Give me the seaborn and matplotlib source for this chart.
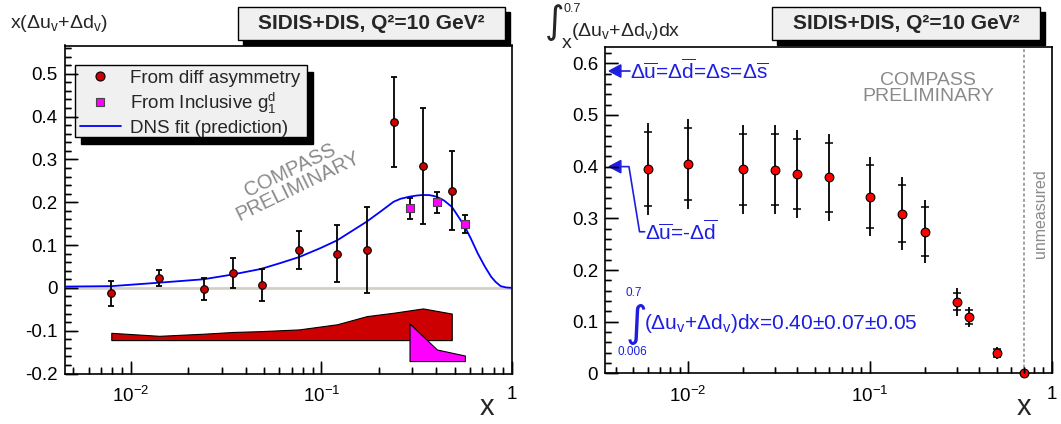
import numpy as np
import matplotlib
matplotlib.use("Agg")
import matplotlib.pyplot as plt
import seaborn as sns
from matplotlib.patches import Rectangle
from matplotlib.lines import Line2D
from matplotlib.ticker import MultipleLocator, FuncFormatter, LogLocator, NullFormatter

# === left panel: x(du_v + dd_v) ===
x_diff = [0.0079, 0.0141, 0.0243, 0.0345, 0.0485, 0.0764, 0.121, 0.173, 0.240, 0.341, 0.483]
y_diff = [-0.013, 0.023, -0.003, 0.034, 0.006, 0.088, 0.080, 0.088, 0.387, 0.284, 0.227]
err_diff = [0.029, 0.018, 0.025, 0.035, 0.037, 0.044, 0.067, 0.101, 0.105, 0.135, 0.093]
syst_diff = [0.017, 0.010, 0.015, 0.019, 0.021, 0.025, 0.037, 0.056, 0.064, 0.074, 0.062]

x_incl = [0.290, 0.404, 0.566]
y_incl = [0.186, 0.200, 0.149]
err_incl = [0.025, 0.025, 0.021]
syst_incl = [0.088, 0.027, 0.013]

x_dns = [0.0045, 0.0079, 0.014, 0.024, 0.034, 0.048, 0.061, 0.0765, 0.099, 0.121, 0.172,
         0.204, 0.239, 0.26, 0.29, 0.315, 0.341, 0.37, 0.402, 0.44, 0.484, 0.52, 0.566,
         0.61, 0.662, 0.72, 0.777, 0.82, 0.872, 0.93, 1.0]
y_dns = [0.003, 0.004, 0.012, 0.020, 0.031, 0.044, 0.058, 0.072, 0.093, 0.111, 0.154,
         0.178, 0.201, 0.208, 0.213, 0.2155, 0.217, 0.2165, 0.213, 0.204, 0.189, 0.168, 0.143,
         0.114, 0.080, 0.050, 0.026, 0.014, 0.004, 0.001, 0.0]

# === right panel: integral from x to 0.7 ===
x_int = [0.006, 0.01, 0.02, 0.03, 0.04, 0.06, 0.1, 0.15, 0.2, 0.3, 0.35, 0.5, 0.7]
y_int = [0.395, 0.405, 0.395, 0.394, 0.386, 0.379, 0.342, 0.309, 0.274, 0.139, 0.109, 0.039, 0.0]
tot_int = [0.089, 0.087, 0.086, 0.086, 0.085, 0.084, 0.077, 0.070, 0.061, 0.027, 0.020, 0.012, 0.0]
stat_int = [0.072, 0.070, 0.069, 0.069, 0.068, 0.066, 0.061, 0.055, 0.047, 0.017, 0.014, 0.008, 0.0]

sea_value = 0.585      # du=dd=ds=ds~
asym_value = 0.40      # du=-dd
x_unmeasured = 0.7

RED_L = "#cc0000"
RED_R = "#ff0000"
MAG = "#ff00ff"
BLUE = "#0000ff"
TBLUE = "#1e1ee0"
GRAY = "#8a8a8a"

sns.set_style("ticks", {"xtick.direction": "in", "ytick.direction": "in"})
plt.rcParams["font.family"] = ["Liberation Sans", "DejaVu Sans"]
plt.rcParams["mathtext.fontset"] = "custom"
plt.rcParams["mathtext.rm"] = "Liberation Sans"
plt.rcParams["mathtext.it"] = "Liberation Sans:italic"
plt.rcParams["mathtext.bf"] = "Liberation Sans:bold"
plt.rcParams["axes.unicode_minus"] = False
plt.rcParams["axes.axisbelow"] = False
plt.rcParams.update({
    "xtick.bottom": True, "ytick.left": True, "xtick.top": False, "ytick.right": False,
    "xtick.major.size": 9, "ytick.major.size": 9, "xtick.minor.size": 4.5,
    "ytick.minor.size": 4.5, "xtick.major.width": 1, "ytick.major.width": 1,
    "xtick.minor.width": 1, "ytick.minor.width": 1, "xtick.color": "k",
    "ytick.color": "k", "xtick.labelsize": 13.5, "ytick.labelsize": 13.5,
    "xtick.major.pad": 9, "ytick.major.pad": 5,
})

fig = plt.figure(figsize=(10.61, 4.24), dpi=100)
W, H = 1061.0, 424.0


def px_axes(x0, y0, x1, y1):
    return [x0 / W, 1 - y1 / H, (x1 - x0) / W, (y1 - y0) / H]


ax1 = fig.add_axes(px_axes(64.7, 45.5, 512, 373.5))
ax2 = fig.add_axes(px_axes(605, 46.7, 1051.7, 373.4))
ax_px = {ax1: (447.3, 328.0), ax2: (446.7, 326.7)}


def yfmt(v, p):
    return f"{round(v, 3) + 0.0:g}"


def xfmt(v, p):
    if abs(v - 1) < 1e-9:
        return "1"
    return rf"$10^{{{int(round(np.log10(v)))}}}$"


# scales and locators first
for ax in (ax1, ax2):
    ax.set_xscale("log")
    ax.xaxis.set_major_locator(LogLocator(base=10))
    ax.xaxis.set_minor_locator(LogLocator(base=10, subs=np.arange(2, 10)))
    ax.xaxis.set_minor_formatter(NullFormatter())
    ax.xaxis.set_major_formatter(FuncFormatter(xfmt))
    ax.yaxis.set_major_locator(MultipleLocator(0.1))
    ax.yaxis.set_minor_locator(MultipleLocator(0.02))
    ax.yaxis.set_major_formatter(FuncFormatter(yfmt))

# ---------------- left panel ----------------
ax1.axhline(0, color="#d4d0c8", lw=2, zorder=1)

ax1.fill_between(x_diff, -0.122, -0.122 + np.array(syst_diff), facecolor=RED_L,
                 edgecolor="k", lw=0.8, zorder=2)
ax1.fill_between(x_incl, -0.171, -0.171 + np.array(syst_incl), facecolor=MAG,
                 edgecolor="k", lw=0.8, zorder=2)

sns.lineplot(x=x_dns, y=y_dns, ax=ax1, color=BLUE, lw=1.3, sort=False, zorder=3)

ax1.errorbar(x_diff, y_diff, yerr=err_diff, fmt="none", ecolor="k", elinewidth=1.3,
             capsize=2.3, capthick=1.3, zorder=4)
ax1.errorbar(x_incl, y_incl, yerr=err_incl, fmt="none", ecolor="k", elinewidth=1.3,
             capsize=2.3, capthick=1.3, zorder=4)
sns.scatterplot(x=x_diff, y=y_diff, ax=ax1, marker="o", s=30, color=RED_L,
                edgecolor="k", linewidth=0.8, zorder=5)
sns.scatterplot(x=x_incl, y=y_incl, ax=ax1, marker="s", s=28, color=MAG,
                edgecolor="#444444", linewidth=0.8, zorder=5)

ax1.text(0.512, 0.595, "COMPASS\nPRELIMINARY", transform=ax1.transAxes, rotation=26,
         ha="center", va="center", fontsize=14.5, color=GRAY, linespacing=0.95,
         rotation_mode="anchor")

# legend with ROOT-like shadow box
lx0, lx1, ly0, ly1 = 0.023, 0.542, 0.721, 0.9405
ax1.add_patch(Rectangle((lx0 + 0.0134, ly0 - 0.0213), lx1 - lx0, ly1 - ly0,
                        transform=ax1.transAxes, fc="k", ec="k", zorder=6))
ax1.add_patch(Rectangle((lx0, ly0), lx1 - lx0, ly1 - ly0, transform=ax1.transAxes,
                        fc="#f0f0f0", ec="k", lw=1, zorder=7))
handles = [
    Line2D([], [], marker="o", ls="none", mfc=RED_L, mec="k", ms=6.5, mew=0.8),
    Line2D([], [], marker="s", ls="none", mfc=MAG, mec="#444444", ms=6, mew=0.8),
    Line2D([], [], color=BLUE, lw=1.3),
]
labels = ["From diff asymmetry", "From Inclusive g$_\\mathrm{1}^\\mathrm{d}$", "DNS fit (prediction)"]
leg = ax1.legend(handles, labels, loc="upper left", bbox_to_anchor=(lx0, ly1),
                 frameon=False, fontsize=13.5, handlelength=2.2, handletextpad=0.5,
                 labelspacing=0.2, borderpad=0.25, borderaxespad=0)
leg.set_zorder(8)

# ---------------- right panel ----------------
ax2.axvline(x_unmeasured, ymin=0, ymax=1.035, color=GRAY, lw=1.1, ls=(0, (2, 1.5)),
            clip_on=False, zorder=1)
ax2.text(0.974, 0.49, "unmeasured", transform=ax2.transAxes, rotation=90,
         ha="center", va="center", fontsize=11.5, color=GRAY)
ax2.text(0.723, 0.872, "COMPASS\nPRELIMINARY", transform=ax2.transAxes,
         ha="center", va="center", fontsize=14, color=GRAY, linespacing=0.85)

ax2.errorbar(x_int, y_int, yerr=tot_int, fmt="none", ecolor="k", elinewidth=1.3,
             capsize=0, zorder=3, clip_on=False)
ax2.errorbar(x_int, y_int, yerr=stat_int, fmt="none", ecolor="k", elinewidth=0,
             capsize=2.9, capthick=1.1, zorder=3, clip_on=False)
sns.scatterplot(x=x_int, y=y_int, ax=ax2, marker="o", s=40, color=RED_R,
                edgecolor="k", linewidth=0.8, zorder=5, clip_on=False)

# arrows pointing at the y axis
for yv in (sea_value, asym_value):
    ax2.fill([0.00369, 0.00428, 0.00428], [yv, yv + 0.012, yv - 0.012],
             color=TBLUE, zorder=6, clip_on=False)
ax2.plot([0.00428, 0.00478], [sea_value, sea_value], color=TBLUE, lw=1.2)
ax2.text(0.00482, sea_value,
         r"Δ$\overline{\mathrm{u}}$=Δ$\overline{\mathrm{d}}$=Δs=Δ$\overline{\mathrm{s}}$",
         ha="left", va="center", fontsize=15, color=TBLUE)
ax2.plot([0.00428, 0.00474, 0.00542, 0.00578], [asym_value, asym_value, 0.274, 0.274],
         color=TBLUE, lw=1.2)
ax2.text(0.00580, 0.274, r"Δ$\overline{\mathrm{u}}$=-Δ$\overline{\mathrm{d}}$",
         ha="left", va="center", fontsize=15, color=TBLUE)

# integral result
ax2.text(0.0694, 0.150, "∫", transform=ax2.transAxes, ha="center", va="center",
         fontsize=30, color=TBLUE, family="DejaVu Sans")
ax2.text(0.065, 0.245, "0.7", transform=ax2.transAxes, ha="center", va="center",
         fontsize=8.5, color=TBLUE)
ax2.text(0.062, 0.065, "0.006", transform=ax2.transAxes, ha="center", va="center",
         fontsize=8.5, color=TBLUE)
ax2.text(0.088, 0.152, r"(Δu$_\mathrm{v}$+Δd$_\mathrm{v}$)dx=0.40±0.07±0.05",
         transform=ax2.transAxes, ha="left", va="center", fontsize=15, color=TBLUE)

# ---------------- axes cosmetics ----------------
ax1.set_xlim(0.0045, 1)
ax1.set_ylim(-0.2, 0.566)
ax2.set_xlim(0.0035, 1)
ax2.set_ylim(0, 0.632)

for ax in (ax1, ax2):
    for s in ax.spines.values():
        s.set_visible(True)
        s.set_edgecolor("k")
        s.set_linewidth(1.2)
    ax.set_xlabel("")
    ax.set_ylabel("")
    ax.tick_params(which="both", direction="in", bottom=True, left=True, top=False,
                   right=False, color="k", width=1)
    ax.tick_params(which="major", length=9)
    ax.tick_params(which="minor", length=4.5)
    ax.xaxis.set_zorder(10)
    ax.yaxis.set_zorder(10)

    # ROOT-style inner tick marks, placed from the axis locators
    wpx, hpx = ax_px[ax]
    x0, x1 = ax.get_xlim()
    y0, y1 = ax.get_ylim()
    for locs, size in ((ax.xaxis.get_majorticklocs(), 12.5), (ax.xaxis.get_minorticklocs(), 6.3)):
        locs = [v for v in locs if x0 <= v <= x1]
        ax.vlines(locs, 0, size / hpx, transform=ax.get_xaxis_transform(), colors="k",
                  lw=1, zorder=9, clip_on=False)
    for locs, size in ((ax.yaxis.get_majorticklocs(), 12.5), (ax.yaxis.get_minorticklocs(), 6.3)):
        locs = [v for v in locs if y0 - 1e-9 <= v <= y1 + 1e-9]
        ax.hlines(locs, 0, size / wpx, transform=ax.get_yaxis_transform(), colors="k",
                  lw=1, zorder=9, clip_on=False)

# ---------------- figure texts ----------------
fig.text(10 / W, 1 - 23 / H, r"x(Δu$_\mathrm{v}$+Δd$_\mathrm{v}$)", ha="left",
         va="center", fontsize=14)
fig.text(555 / W, 1 - 23 / H, "∫", ha="center", va="center", fontsize=27,
         family="DejaVu Sans")
fig.text(563 / W, 1 - 9 / H, "0.7", ha="left", va="center", fontsize=9)
fig.text(562 / W, 1 - 44 / H, "x", ha="left", va="center", fontsize=14)
fig.text(571 / W, 1 - 31 / H, r"(Δu$_\mathrm{v}$+Δd$_\mathrm{v}$)dx", ha="left",
         va="center", fontsize=14)

fig.text(487 / W, 1 - 407 / H, "x", ha="center", va="center", fontsize=21)
fig.text(1024 / W, 1 - 407 / H, "x", ha="center", va="center", fontsize=21)

for bx0, bx1 in ((238, 505), (772, 1040)):
    by0, by1 = 7, 40
    fig.add_artist(Rectangle((bx0 / W + 5 / W, 1 - (by1 + 5) / H), (bx1 - bx0) / W,
                             (by1 - by0) / H, transform=fig.transFigure, fc="k", ec="k"))
    fig.add_artist(Rectangle((bx0 / W, 1 - by1 / H), (bx1 - bx0) / W, (by1 - by0) / H,
                             transform=fig.transFigure, fc="#f0f0f0", ec="k", lw=1))
    fig.text((bx0 + bx1) / 2 / W, 1 - (by0 + by1) / 2 / H, "SIDIS+DIS, Q²=10 GeV²",
             ha="center", va="center", fontsize=15, fontweight="bold")

fig.savefig("out.png", dpi=100)
